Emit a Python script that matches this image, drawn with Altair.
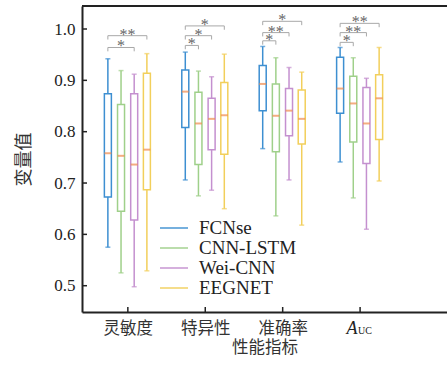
import json
import altair as alt
import pandas as pd

# ---------------- data ----------------
metrics = ["灵敏度", "特异性", "准确率", "AUC"]
models = ["FCNse", "CNN-LSTM", "Wei-CNN", "EEGNET"]
colors = ["#3d8fd1", "#9fd08a", "#c490cf", "#f2cf5b"]
median_color = "#f08a4b"

whisker_low = {
    "FCNse":    [0.575, 0.706, 0.767, 0.741],
    "CNN-LSTM": [0.525, 0.675, 0.636, 0.671],
    "Wei-CNN":  [0.498, 0.686, 0.706, 0.610],
    "EEGNET":   [0.529, 0.650, 0.618, 0.704],
}
q1 = {
    "FCNse":    [0.673, 0.808, 0.841, 0.836],
    "CNN-LSTM": [0.645, 0.736, 0.761, 0.780],
    "Wei-CNN":  [0.628, 0.765, 0.792, 0.738],
    "EEGNET":   [0.687, 0.756, 0.776, 0.785],
}
median = {
    "FCNse":    [0.758, 0.878, 0.893, 0.884],
    "CNN-LSTM": [0.753, 0.816, 0.831, 0.855],
    "Wei-CNN":  [0.736, 0.825, 0.841, 0.816],
    "EEGNET":   [0.765, 0.832, 0.825, 0.865],
}
q3 = {
    "FCNse":    [0.874, 0.920, 0.929, 0.945],
    "CNN-LSTM": [0.853, 0.877, 0.893, 0.908],
    "Wei-CNN":  [0.874, 0.865, 0.884, 0.886],
    "EEGNET":   [0.914, 0.896, 0.881, 0.911],
}
whisker_high = {
    "FCNse":    [0.942, 0.955, 0.966, 0.964],
    "CNN-LSTM": [0.919, 0.918, 0.944, 0.944],
    "Wei-CNN":  [0.912, 0.907, 0.925, 0.904],
    "EEGNET":   [0.952, 0.951, 0.916, 0.964],
}

# significance brackets (FCNse vs. target model)
bracket_metric = [0, 0, 1, 1, 1, 2, 2, 2, 3, 3, 3]
bracket_target = [2, 3, 1, 2, 3, 1, 2, 3, 1, 2, 3]
bracket_level = [0.964, 0.987, 0.968, 0.987, 1.006, 0.977, 0.993, 1.015, 0.974, 0.993, 1.011]
bracket_label = ["*", "**", "*", "*", "*", "*", "**", "*", "*", "**", "**"]

y_ticks = [0.5, 0.6, 0.7, 0.8, 0.9, 1.0]

# ---------------- layout constants ----------------
W, H = 365, 306
offsets = [-0.258, -0.088, 0.082, 0.246]
drop = 0.0075
INK = "#222222"
SERIF = "Liberation Serif"
CJK = "Noto Sans CJK SC"

rows = []
for j, m in enumerate(models):
    for i in range(len(metrics)):
        rows.append({
            "model": m, "x": i + 1 + offsets[j],
            "lo": whisker_low[m][i], "q1": q1[m][i], "med": median[m][i],
            "q3": q3[m][i], "hi": whisker_high[m][i],
        })
box_df = pd.DataFrame(rows)

br_df = pd.DataFrame({
    "x1": [m + 1 + offsets[0] for m in bracket_metric],
    "x2": [m + 1 + offsets[t] for m, t in zip(bracket_metric, bracket_target)],
    "level": bracket_level,
    "label": bracket_label,
})

xscale = alt.Scale(domain=[0.4724, 5.058], nice=False, zero=False)
yscale = alt.Scale(domain=[0.4488, 1.0448], nice=False, zero=False)

x_axis = alt.Axis(
    values=[1, 2, 3], tickSize=0, grid=False,
    labelExpr=json.dumps(metrics[:3], ensure_ascii=False) + "[datum.value - 1] || ''",
    labelFont=CJK, labelFontSize=16.5, labelColor="#333333", labelPadding=8,
    title="性能指标", titleFont=CJK, titleFontSize=16.5, titleFontWeight="normal",
    titleColor="#333333", titlePadding=3,
    domainColor=INK, domainWidth=2,
)
y_axis = alt.Axis(
    values=y_ticks, format=".1f", tickSize=0, grid=False,
    labelFont=SERIF, labelFontSize=17, labelColor=INK, labelPadding=7,
    title="变量值", titleFont=CJK, titleFontSize=18, titleFontWeight="normal",
    titleColor="#333333", titlePadding=20,
    domainColor=INK, domainWidth=2,
)

legend = alt.Legend(
    orient="none", legendX=77, legendY=212, title=None,
    symbolType="stroke", symbolSize=784, symbolStrokeWidth=2,
    clipHeight=20, rowPadding=0, padding=0, labelOffset=10,
    labelFont=SERIF, labelFontSize=19, labelColor=INK,
)

cscale = alt.Scale(domain=models, range=colors)
base = alt.Chart(box_df)


def XQ(field):
    return alt.X(field, scale=xscale, axis=x_axis)


def YQ(field):
    return alt.Y(field, scale=yscale, axis=y_axis)


# brackets
br = alt.Chart(br_df)
br_h = br.mark_rule(color="#a8a8a8", strokeWidth=1).encode(
    x=XQ("x1:Q"), x2="x2:Q", y=YQ("level:Q"))
br_l = br.transform_calculate(end="datum.level - " + str(drop)).mark_rule(
    color="#a8a8a8", strokeWidth=1).encode(x=XQ("x1:Q"), y=YQ("level:Q"), y2="end:Q")
br_r = br.transform_calculate(end="datum.level - " + str(drop)).mark_rule(
    color="#a8a8a8", strokeWidth=1).encode(x=XQ("x2:Q"), y=YQ("level:Q"), y2="end:Q")
br_t = br.transform_calculate(xm="(datum.x1 + datum.x2) / 2").mark_text(
    font=SERIF, fontSize=16, color="#666666", baseline="alphabetic", dy=4).encode(
    x=XQ("xm:Q"), y=YQ("level:Q"), text="label:N")

whisk = base.mark_rule(strokeWidth=1.5).encode(
    x=XQ("x:Q"), y=YQ("lo:Q"), y2="hi:Q",
    color=alt.Color("model:N", scale=cscale, legend=legend, sort=models))
cap_lo = base.mark_tick(orient="horizontal", size=5, thickness=1.5).encode(
    x=XQ("x:Q"), y=YQ("lo:Q"),
    color=alt.Color("model:N", scale=cscale, legend=legend, sort=models))
cap_hi = base.mark_tick(orient="horizontal", size=5, thickness=1.5).encode(
    x=XQ("x:Q"), y=YQ("hi:Q"),
    color=alt.Color("model:N", scale=cscale, legend=legend, sort=models))
box = base.mark_bar(size=7, fill="white", strokeWidth=1.5).encode(
    x=XQ("x:Q"), y=YQ("q1:Q"), y2="q3:Q",
    stroke=alt.Stroke("model:N", scale=cscale, legend=None))
med = base.mark_tick(orient="horizontal", size=7, thickness=2, color=median_color).encode(
    x=XQ("x:Q"), y=YQ("med:Q"))

# inward ticks and top frame line
ytk = alt.Chart(pd.DataFrame({"v": y_ticks})).mark_rule(color=INK, strokeWidth=1.5).encode(
    y=YQ("v:Q"), x=alt.value(0), x2=alt.value(5))
xtk = alt.Chart(pd.DataFrame({"v": [1, 2, 3, 4]})).mark_rule(color=INK, strokeWidth=1.5).encode(
    x=XQ("v:Q"), y=alt.value(H), y2=alt.value(H - 5))
top = alt.Chart(pd.DataFrame({"a": [0]})).mark_rule(color=INK, strokeWidth=2).encode(
    x=alt.value(0), x2=alt.value(W), y=alt.value(0))

# A_UC label
auc_df = pd.DataFrame({"x": [4], "main": [metrics[3][0]], "sub": [metrics[3][1:]]})
auc_a = alt.Chart(auc_df).mark_text(
    font=SERIF, fontStyle="italic", fontSize=18, align="center",
    baseline="alphabetic", dx=-8, color=INK).encode(
    x=XQ("x:Q"), y=alt.value(H + 22), text="main:N")
auc_s = alt.Chart(auc_df).mark_text(
    font=SERIF, fontSize=10, align="left", baseline="alphabetic", dx=-2, color=INK).encode(
    x=XQ("x:Q"), y=alt.value(H + 22), text="sub:N")

chart = alt.layer(
    whisk, br_h, br_l, br_r, br_t, cap_lo, cap_hi, box, med, ytk, xtk, top, auc_a, auc_s
).properties(
    width=W, height=H,
    autosize=alt.AutoSizeParams(type="none"),
    padding={"left": 82, "top": 6, "right": 0, "bottom": 62},
    background="white",
).configure_view(stroke=None).configure_axis(labelFont=SERIF)

chart.save("out.html", embed_options={"renderer": "svg", "actions": False})
